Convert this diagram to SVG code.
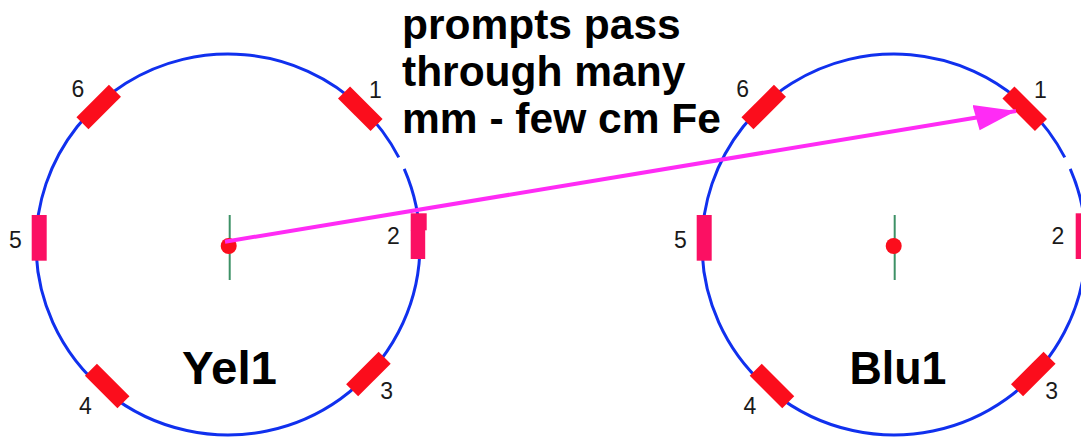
<svg xmlns="http://www.w3.org/2000/svg" width="1081" height="438" viewBox="0 0 1081 438">
<style>
.ring{fill:none;stroke:#1030ee;stroke-width:3}
.det{fill:#fb0d1c}
.side{fill:#fb1063}
.tick{stroke:#3d9166;stroke-width:2}
.dot{fill:#fb0d1c}
.n{font-family:"Liberation Sans",Arial,sans-serif;font-size:23px;fill:#1a1a1a;text-anchor:middle}
.b{font-family:"Liberation Sans",Arial,sans-serif;font-weight:bold;fill:#000}
.big{font-size:47px;text-anchor:middle}
.note{font-size:42.500px}
</style>
<defs>
<marker id="ah" markerUnits="userSpaceOnUse" markerWidth="44" markerHeight="30" refX="42" refY="15" orient="auto"><path d="M0 2L42 15L3 28Z" fill="#ff2bf5"/></marker>
</defs>
<g id="yel1">
<path class="ring" d="M398.760 157.420A192 190.500 0 0 0 36 244.500A192 190.500 0 1 0 404.220 168.850"/>
<rect class="det" x="-23" y="-8.500" width="46" height="17" transform="translate(360.300 108.700) rotate(45)"/>
<rect class="side" x="410.700" y="213.300" width="16" height="17"/>
<rect class="side" x="410.700" y="230" width="14.500" height="29"/>
<rect class="det" x="-23" y="-8.500" width="46" height="17" transform="translate(368.400 374) rotate(-45)"/>
<rect class="det" x="-23" y="-8.500" width="46" height="17" transform="translate(107.200 386) rotate(45)"/>
<rect class="side" x="31.700" y="215" width="15" height="45.700"/>
<rect class="det" x="-23" y="-8.500" width="46" height="17" transform="translate(98.700 107) rotate(-45)"/>
<line class="tick" x1="229.700" y1="215" x2="229.700" y2="280"/>
<circle class="dot" cx="228.700" cy="246" r="8"/>
<text class="n" x="375.500" y="98.300">1</text>
<text class="n" x="393.500" y="244">2</text>
<text class="n" x="386.700" y="399.300">3</text>
<text class="n" x="85.300" y="414">4</text>
<text class="n" x="15.500" y="247.700">5</text>
<text class="n" x="78" y="96.700">6</text>
<text class="b big" x="229.500" y="384" textLength="95" lengthAdjust="spacingAndGlyphs">Yel1</text>
</g>
<g id="blu1">
<path class="ring" d="M1064.760 157.420A192 190.500 0 0 0 702 244.500A192 190.500 0 1 0 1070.220 168.850"/>
<rect class="det" x="-23" y="-8.500" width="46" height="17" transform="translate(1024.700 108.700) rotate(45)"/>
<rect class="side" x="1075.700" y="213.300" width="8" height="45.700"/>
<rect class="det" x="-23" y="-8.500" width="46" height="17" transform="translate(1033.300 374) rotate(-45)"/>
<rect class="det" x="-23" y="-8.500" width="46" height="17" transform="translate(772 386) rotate(45)"/>
<rect class="side" x="696.700" y="215" width="15" height="45.700"/>
<rect class="det" x="-23" y="-8.500" width="46" height="17" transform="translate(763.700 107) rotate(-45)"/>
<line class="tick" x1="894.700" y1="215" x2="894.700" y2="280"/>
<circle class="dot" cx="893.700" cy="246" r="8"/>
<text class="n" x="1040.500" y="98.300">1</text>
<text class="n" x="1058" y="244">2</text>
<text class="n" x="1051.700" y="399.300">3</text>
<text class="n" x="750" y="414">4</text>
<text class="n" x="680.500" y="247.700">5</text>
<text class="n" x="742.700" y="97">6</text>
<text class="b big" x="898" y="384" textLength="97" lengthAdjust="spacingAndGlyphs">Blu1</text>
</g>
<g id="note">
<text class="b note" x="402" y="39">prompts pass</text>
<text class="b note" x="402" y="86">through many</text>
<text class="b note" x="402" y="133">mm - few cm Fe</text>
</g>
<g id="connectors">
<line x1="225" y1="241.700" x2="1016" y2="111" stroke="#ff2bf5" stroke-width="4" marker-end="url(#ah)"/>
</g>
</svg>
